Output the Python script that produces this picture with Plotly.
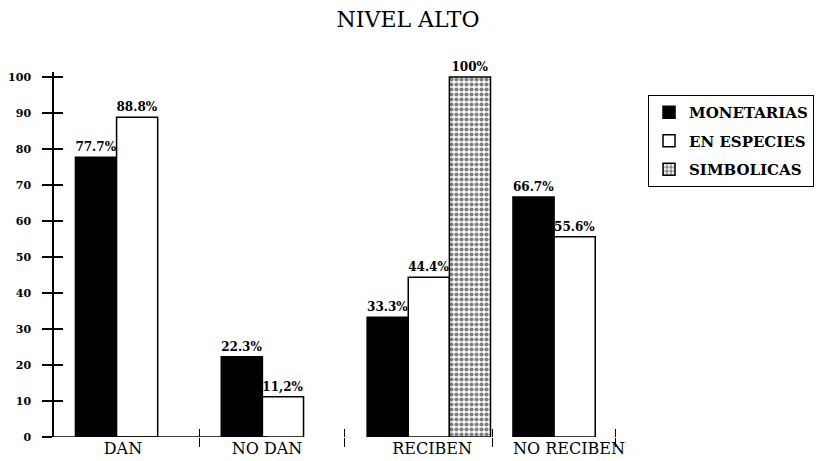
import plotly.graph_objects as go

# Categories and series values (percent)
categorias = ["DAN", "NO DAN", "RECIBEN", "NO RECIBEN"]
monetarias = [77.7, 22.3, 33.3, 66.7]
en_especies = [88.8, 11.2, 44.4, 55.6]
simbolicas = [None, None, 100, None]

etiquetas_monetarias = ["77.7%", "22.3%", "33.3%", "66.7%"]
etiquetas_especies = ["88.8%", "11,2%", "44.4%", "55.6%"]
etiquetas_simbolicas = ["", "", "100%", ""]

y_ticks = list(range(0, 101, 10))

# numeric positions for the category groups
posiciones = list(range(len(categorias)))
# where the category names sit and where the separator ticks are drawn
pos_etiquetas = [-0.097, 0.891, 2.022, 2.961]
pos_separadores = [0.431, 1.425, 2.44, 3.277]

X_RANGE = [-0.57, 3.448]
Y_RANGE = [0, 101.4]

SERIF = "DejaVu Serif"
texto_barras = dict(family=SERIF, size=12, color="black", weight="bold")
contorno = dict(color="black", width=1.5)

fig = go.Figure()
fig.add_trace(go.Bar(
    name="MONETARIAS", x=posiciones, y=monetarias,
    text=etiquetas_monetarias, textposition="outside", textfont=texto_barras,
    marker=dict(color="black", line=contorno),
    cliponaxis=False, constraintext="none", legendgroup="a",
))
fig.add_trace(go.Bar(
    name="EN ESPECIES", x=posiciones, y=en_especies,
    text=etiquetas_especies, textposition="outside", textfont=texto_barras,
    marker=dict(color="white", line=contorno),
    cliponaxis=False, constraintext="none", legendgroup="b",
))
fig.add_trace(go.Bar(
    name="SIMBOLICAS", x=posiciones, y=simbolicas,
    text=etiquetas_simbolicas, textposition="outside", textfont=texto_barras,
    marker=dict(color="white", line=contorno,
                pattern=dict(shape=".", fgcolor="black", bgcolor="white",
                             size=5, solidity=0.55)),
    cliponaxis=False, constraintext="none", legendgroup="c",
))

# invisible helper traces so the overlay axes get drawn
fig.add_trace(go.Scatter(x=[None], y=[None], xaxis="x2", yaxis="y2",
                         showlegend=False, hoverinfo="skip"))
fig.add_trace(go.Scatter(x=[None], y=[None], xaxis="x3", yaxis="y2",
                         showlegend=False, hoverinfo="skip"))

fig.update_layout(
    width=828, height=461,
    margin=dict(l=54, r=188, t=72, b=24, autoexpand=False),
    paper_bgcolor="white", plot_bgcolor="white",
    barmode="group", bargap=0.154, bargroupgap=0,
    title=dict(text="NIVEL ALTO", font=dict(family=SERIF, size=22, color="black"),
               x=0.4928, xref="container", xanchor="center",
               y=0.974, yref="container", yanchor="top"),
    legend=dict(x=1.0137, y=0.937, xanchor="left", yanchor="top",
                bgcolor="white", bordercolor="black", borderwidth=1,
                font=dict(family=SERIF, size=15, color="black", weight="bold"),
                traceorder="grouped", tracegroupgap=6),
    xaxis=dict(range=X_RANGE, tickmode="array", tickvals=pos_etiquetas,
               ticktext=categorias, ticks="", showline=False, showgrid=False,
               zeroline=False,
               tickfont=dict(family=SERIF, size=16, color="black")),
    xaxis2=dict(range=X_RANGE, overlaying="x", anchor="y", tickmode="array",
                tickvals=pos_separadores, ticks="outside", ticklen=9, tickwidth=1,
                tickcolor="black", showticklabels=False, showline=False,
                showgrid=False, zeroline=False),
    xaxis3=dict(range=X_RANGE, overlaying="x", anchor="y", tickmode="array",
                tickvals=pos_separadores, ticks="inside", ticklen=8, tickwidth=1,
                tickcolor="black", showticklabels=False, showline=False,
                showgrid=False, zeroline=False),
    yaxis=dict(range=Y_RANGE, tickmode="array", tickvals=y_ticks,
               ticks="outside", ticklen=10, tickwidth=1.5, tickcolor="black",
               showline=True, linecolor="black", linewidth=1.5,
               showgrid=False, zeroline=False, ticklabelstandoff=9,
               tickfont=dict(family=SERIF, size=11, color="black", weight="bold")),
    yaxis2=dict(range=Y_RANGE, overlaying="y", anchor="x", side="left",
                tickmode="array", tickvals=y_ticks[1:], ticks="inside",
                ticklen=9, tickwidth=1.5, tickcolor="black",
                showticklabels=False, showline=False, showgrid=False, zeroline=False),
    showlegend=True,
)

# baseline under the left-hand groups
fig.add_shape(type="line", xref="x", yref="y", x0=X_RANGE[0], x1=0.89, y0=0, y1=0,
              line=dict(color="black", width=1.5))

fig.write_html("out.html")
